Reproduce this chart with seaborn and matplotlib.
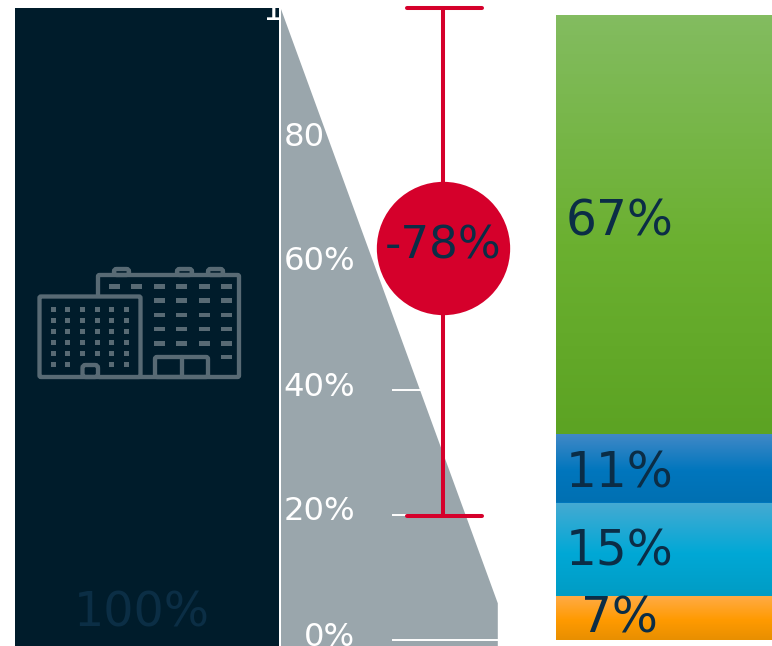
import matplotlib
matplotlib.use("Agg")
import matplotlib.pyplot as plt
from matplotlib.colors import LinearSegmentedColormap
from matplotlib.patches import FancyBboxPatch, Rectangle
from matplotlib.transforms import ScaledTranslation
import numpy as np
import seaborn as sns

# Values
baseline_share = [100]
baseline_label = ["100%"]
wedge_pos = [0, 1]
wedge_share = [100, 8.6]
reduction_span = [100, 22]
reduction_label = "-78%"
reduction_marker = 63.2
axis_ticks = [0, 20, 40, 60, 80, 100]
axis_labels = ["0%", "20%", "40%", "60%", "80%", "100%"]

mix_shares = [7, 15, 11, 67]
mix_labels = ["7%", "15%", "11%", "67%"]
mix_label_y = [3.5, 14.2, 26.7, 67.0]

# Colours
NAVY = "#001c2b"
LABEL_NAVY = "#0b2d46"
BASE_LABEL = "#0b2e45"
GREY = "#9aa6ac"
RED = "#d5002b"
ICON = "#586a74"
mix_gradients = [
    ["#ffab45", "#ff9a00", "#e88f00"],
    ["#46aad2", "#00a8d6", "#009cc4"],
    ["#4289c7", "#0076bd", "#0070b2"],
    ["#83bc60", "#6bb030", "#5ca323"],
]

W, H = 772, 646
DPI = 100
sns.set_theme(style="white")
plt.rcParams["font.family"] = ["DejaVu Sans"]
fig = plt.figure(figsize=(W / DPI, H / DPI), dpi=DPI, facecolor="white")


def px_axes(left, right, top=0, bottom=H, z=1):
    """Axes positioned by its pixel box, measured from the top-left corner."""
    ax = fig.add_axes([left / W, 1 - bottom / H, (right - left) / W, (bottom - top) / H], zorder=z)
    ax.patch.set_visible(False)
    return ax


# Scale of the before/after panel: 100 sits at the top of the navy bar
drop_ylim = (2.04, 101.23)
# Scale of the percentage axis and the mix stack
share_ylim = (-0.96, 102.4)

# Baseline bar
ax_base = px_axes(15, 279.3, z=1)
sns.barplot(x=[""], y=baseline_share, color=NAVY, saturation=1, width=1, linewidth=0, ax=ax_base)
ax_base.set_xlim(-0.5, 0.5)
ax_base.set_ylim(*drop_ylim)
ax_base.axis("off")
ax_base.text(-0.02, 7.1, baseline_label[0], color=BASE_LABEL, fontsize=34.3, ha="center", va="center")

# Building pictogram, in figure pixels
ax_icon = px_axes(0, W, z=2)
ax_icon.set_xlim(0, W)
ax_icon.set_ylim(H, 0)
ax_icon.axis("off")

ICON_LW = 3.1


def outline(x0, y0, x1, y1, rounding=1.5):
    ax_icon.add_patch(FancyBboxPatch((x0, y0), x1 - x0, y1 - y0, boxstyle=f"round,pad=0,rounding_size={rounding}",
                                     fill=False, ec=ICON, lw=ICON_LW))


def window(cx, cy, w, h):
    ax_icon.add_patch(Rectangle((cx - w / 2, cy - h / 2), w, h, fc=ICON, ec="none"))


outline(98, 275, 239, 377)
ax_icon.add_patch(Rectangle((39.5, 296.5), 101, 80.5, fc=NAVY, ec="none"))
outline(39.5, 296.5, 140.5, 377)
for x0, x1 in [(114, 129), (177, 192), (208, 223)]:
    outline(x0, 269, x1, 275, rounding=2.5)
right_cols = [159, 181, 204, 226]
for cx in [114, 136.5] + right_cols:
    window(cx, 286.7, 11, 4.7)
for cy in [300.7, 315, 329, 343.3]:
    for cx in right_cols:
        window(cx, cy, 11, 4.7)
window(226, 357, 11, 4.7)
for cy in [309.3, 320.3, 331.3, 342.3, 353.3, 364.3]:
    for cx in [53, 67.7, 82.3, 97, 111.7, 126.7]:
        if cy == 364.3 and cx in (82.3, 97):
            continue
        window(cx, cy, 5, 5)
outline(82.5, 365, 98, 377, rounding=3)
outline(155, 357, 208, 377, rounding=2)
ax_icon.plot([182, 182], [357, 377], color=ICON, lw=ICON_LW)

# Grey wedge falling away from the baseline
ax_wedge = px_axes(280.6, 497.8, z=1)
ax_wedge.fill_between(wedge_pos, wedge_share, 0, color=GREY, lw=0)
ax_wedge.set_xlim(0, 1)
ax_wedge.set_ylim(*drop_ylim)
ax_wedge.axis("off")

# Percentage axis with white gridlines; its labels run across the panels
ax_scale = px_axes(392, 498, z=3)
ax_scale.set_xlim(0, 1)
ax_scale.set_ylim(*share_ylim)
ax_scale.set_xticks([])
ax_scale.set_yticks(axis_ticks, axis_labels)
ax_scale.tick_params(axis="y", length=0, pad=26.6, labelsize=23.2, labelcolor="white")
ax_scale.grid(axis="y", color="white", lw=1.4)
sns.despine(ax=ax_scale, left=True, bottom=True)
shift = ScaledTranslation(0, 6.5 / DPI, fig.dpi_scale_trans)
for lab in ax_scale.get_yticklabels():
    lab.set_transform(lab.get_transform() + shift)

# Reduction bracket and its badge
ax_drop = px_axes(407.2, 482, z=4)
ax_drop.set_xlim(0, 1)
ax_drop.set_ylim(*drop_ylim)
ax_drop.axis("off")
ax_drop.vlines(0.485, reduction_span[1], reduction_span[0], color=RED, lw=2.9, clip_on=False)
ax_drop.hlines(reduction_span, 0, 1, color=RED, lw=2.9, capstyle="round", clip_on=False)
sns.scatterplot(x=[0.485], y=[reduction_marker], color=RED, s=96 ** 2, linewidth=0, ax=ax_drop, clip_on=False, zorder=5)
ax_drop.text(0.485, reduction_marker + 0.3, reduction_label, color=LABEL_NAVY, fontsize=32.5,
             ha="center", va="center", zorder=6)

# Stacked mix with a soft vertical sheen on each band
ax_mix = px_axes(556, 772, z=1)
bottoms = np.concatenate([[0], np.cumsum(mix_shares)[:-1]])
for share, base, stops in zip(mix_shares, bottoms, mix_gradients):
    sns.barplot(x=[""], y=[share], bottom=base, color=stops[1], saturation=1, width=1, linewidth=0, ax=ax_mix)
    patch = ax_mix.patches[-1]
    cmap = LinearSegmentedColormap.from_list("band", list(zip([0, 0.55, 1], stops)))
    im = ax_mix.imshow(np.linspace(0, 1, 128)[:, None], cmap=cmap, aspect="auto",
                       extent=(-0.5, 0.5, base, base + share), origin="upper", zorder=2)
    im.set_clip_path(patch)
ax_mix.set_xlim(-0.5, 0.5)
ax_mix.set_ylim(*share_ylim)
ax_mix.axis("off")
for label, y in zip(mix_labels, mix_label_y):
    ax_mix.text(-0.205, y, label, color=LABEL_NAVY, fontsize=35, ha="center", va="center", zorder=3)

fig.savefig("out.png", dpi=DPI, facecolor="white")
